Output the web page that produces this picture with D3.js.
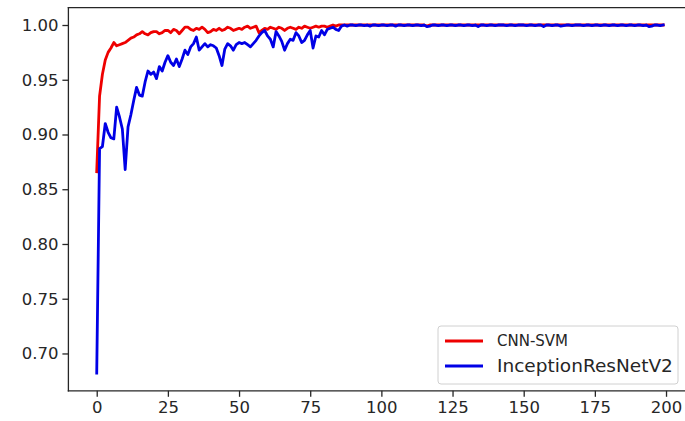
<!DOCTYPE html>
<html><head><meta charset="utf-8">
<script src="https://cdn.jsdelivr.net/npm/d3@7"></script>
<style>
html,body{margin:0;padding:0;background:#fff;overflow:hidden}
svg{display:block}
text{font-family:"DejaVu Sans",sans-serif;fill:#262626}
</style></head><body>
<svg id="c" width="685" height="421"></svg>
<script>
const seriesNames = ["CNN-SVM", "InceptionResNetV2"];
const seriesColors = ["#ee0000", "#0000e6"];
const xTicks = [0, 25, 50, 75, 100, 125, 150, 175, 200];
const yTicks = [0.70, 0.75, 0.80, 0.85, 0.90, 0.95, 1.00];

const cnnSvm = [
0.866,0.935,0.955,0.968,0.975,0.979,0.984,0.981,0.982,0.983,
0.984,0.986,0.988,0.989,0.991,0.992,0.994,0.992,0.991,0.993,
0.994,0.994,0.992,0.993,0.995,0.995,0.993,0.996,0.995,0.992,
0.995,0.998,0.998,0.996,0.995,0.997,0.996,0.998,0.996,0.993,
0.994,0.996,0.995,0.997,0.995,0.996,0.998,0.997,0.995,0.996,
0.997,0.996,0.998,0.999,0.997,0.998,0.999,0.993,0.995,0.997,
0.996,0.998,0.997,0.996,0.998,0.997,0.995,0.997,0.998,0.997,
0.996,0.998,0.997,0.999,0.998,0.997,0.998,0.999,0.998,0.999,
0.999,0.998,0.999,1.0,0.999,1.0,1.0,1.0,1.0,1.0,
1.0,1.0,1.0,1.0,1.0,1.0,1.0,1.0,1.0,1.0,
1.0,1.0,1.0,1.0,1.0,1.0,1.0,1.0,1.0,1.0,
1.0,1.0,1.0,1.0,1.0,1.0,0.999,1.0,1.0,1.0,
1.0,1.0,1.0,1.0,1.0,1.0,1.0,1.0,1.0,1.0,
1.0,1.0,1.0,1.0,1.0,1.0,1.0,1.0,1.0,1.0,
1.0,1.0,1.0,1.0,1.0,1.0,1.0,1.0,1.0,1.0,
1.0,1.0,1.0,1.0,1.0,1.0,1.0,1.0,1.0,1.0,
1.0,1.0,1.0,1.0,1.0,1.0,1.0,1.0,1.0,1.0,
1.0,1.0,1.0,1.0,1.0,1.0,1.0,1.0,1.0,1.0,
1.0,1.0,1.0,1.0,1.0,1.0,1.0,1.0,1.0,1.0,
1.0,1.0,1.0,1.0,1.0,1.0,1.0,1.0,1.0,1.0
];

const inceptionResNetV2 = [
0.682,0.887,0.889,0.910,0.902,0.897,0.896,0.925,0.916,0.905,
0.868,0.907,0.918,0.931,0.943,0.936,0.935,0.948,0.958,0.955,
0.957,0.951,0.962,0.958,0.966,0.972,0.966,0.963,0.969,0.962,
0.969,0.977,0.973,0.980,0.983,0.989,0.977,0.980,0.983,0.980,
0.982,0.981,0.979,0.972,0.963,0.978,0.983,0.981,0.977,0.982,
0.984,0.983,0.984,0.982,0.980,0.983,0.986,0.990,0.993,0.995,
0.990,0.987,0.980,0.994,0.990,0.985,0.977,0.983,0.987,0.986,
0.993,0.990,0.984,0.986,0.991,0.995,0.979,0.990,0.989,0.995,
0.991,0.996,0.997,0.998,0.996,0.995,0.999,1.0,0.999,1.0,
1.0,0.9995,1.0,1.0,0.9995,1.0,0.999,1.0,1.0,0.9995,
1.0,1.0,0.9995,1.0,1.0,0.999,1.0,1.0,0.9995,1.0,
1.0,0.9995,1.0,1.0,0.9995,1.0,0.9985,0.999,1.0,1.0,
0.9995,1.0,1.0,0.9995,1.0,1.0,0.9995,1.0,1.0,0.9995,
1.0,1.0,0.9995,1.0,0.9985,1.0,1.0,0.9995,1.0,1.0,
0.9995,1.0,1.0,1.0,0.9995,1.0,1.0,0.9995,1.0,1.0,
1.0,0.9995,1.0,1.0,0.9995,1.0,1.0,0.9985,1.0,1.0,
0.9995,1.0,1.0,0.999,0.9995,1.0,1.0,0.9995,1.0,1.0,
1.0,0.9995,1.0,1.0,0.9995,1.0,1.0,0.9995,1.0,1.0,
0.9995,1.0,1.0,0.9995,1.0,1.0,0.9995,1.0,1.0,0.9995,
1.0,1.0,0.9995,1.0,0.9985,0.999,1.0,1.0,0.9995,1.0
];

const allSeries = [cnnSvm, inceptionResNetV2];

const W = 685;
const svg = d3.select("#c");
const x = d3.scaleLinear().domain([-9.95, 208.95]).range([68.4, 691.5]);
const y = d3.scaleLinear().domain([0.6659, 1.0159]).range([390.8, 7.6]);
const [x0] = x.range();
const [yb, yt] = y.range();

const g = svg.append("g");

// lines
const line = d3.line().x((d, i) => x(i)).y(d => y(d));
allSeries.forEach((s, k) => {
  g.append("path").datum(s)
    .attr("fill", "none")
    .attr("stroke", seriesColors[k])
    .attr("stroke-width", 2.8)
    .attr("stroke-linejoin", "round")
    .attr("stroke-linecap", "square")
    .attr("d", line);
});

// frame: top, left, bottom (right side lies outside the picture)
const frame = [
  [x0, yt, W + 2, yt],
  [x0, yt, x0, yb],
  [x0, yb, W + 2, yb]
];
g.selectAll("line.frame").data(frame).join("line").attr("class", "frame")
  .attr("x1", d => d[0]).attr("y1", d => d[1]).attr("x2", d => d[2]).attr("y2", d => d[3])
  .attr("stroke", "#262626").attr("stroke-width", 1.3).attr("stroke-linecap", "square");

// axes
const xAxis = d3.axisBottom(x).tickValues(xTicks).tickSize(6).tickPadding(4).tickFormat(d3.format("d"));
const xa = g.append("g").attr("transform", `translate(0,${yb})`).call(xAxis);
xa.select(".domain").remove();
xa.selectAll("line").attr("stroke", "#262626").attr("stroke-width", 1.3);
xa.selectAll("text").attr("font-size", 16.5).attr("font-family", "DejaVu Sans").attr("fill", "#262626");

const yAxis = d3.axisLeft(y).tickValues(yTicks).tickSize(6).tickPadding(4).tickFormat(d3.format(".2f"));
const ya = g.append("g").attr("transform", `translate(${x0},0)`).call(yAxis);
ya.select(".domain").remove();
ya.selectAll("line").attr("stroke", "#262626").attr("stroke-width", 1.3);
ya.selectAll("text").attr("font-size", 16.5).attr("font-family", "DejaVu Sans").attr("fill", "#262626");

// legend
const lg = g.append("g");
lg.append("rect").attr("x", 438).attr("y", 326).attr("width", 240).attr("height", 58)
  .attr("rx", 3).attr("fill", "#fff").attr("fill-opacity", 0.9)
  .attr("stroke", "#d0d0d0").attr("stroke-width", 1);
const legendSizes = [15, 18.5];
const legendYs = [341, 366];
seriesNames.forEach((n, k) => {
  lg.append("line").attr("x1", 445).attr("x2", 483).attr("y1", legendYs[k]).attr("y2", legendYs[k])
    .attr("stroke", seriesColors[k]).attr("stroke-width", 2.8);
  lg.append("text").attr("x", 497).attr("y", legendYs[k]).attr("dy", "0.35em")
    .attr("font-size", legendSizes[k]).text(n);
});
</script>
</body></html>
